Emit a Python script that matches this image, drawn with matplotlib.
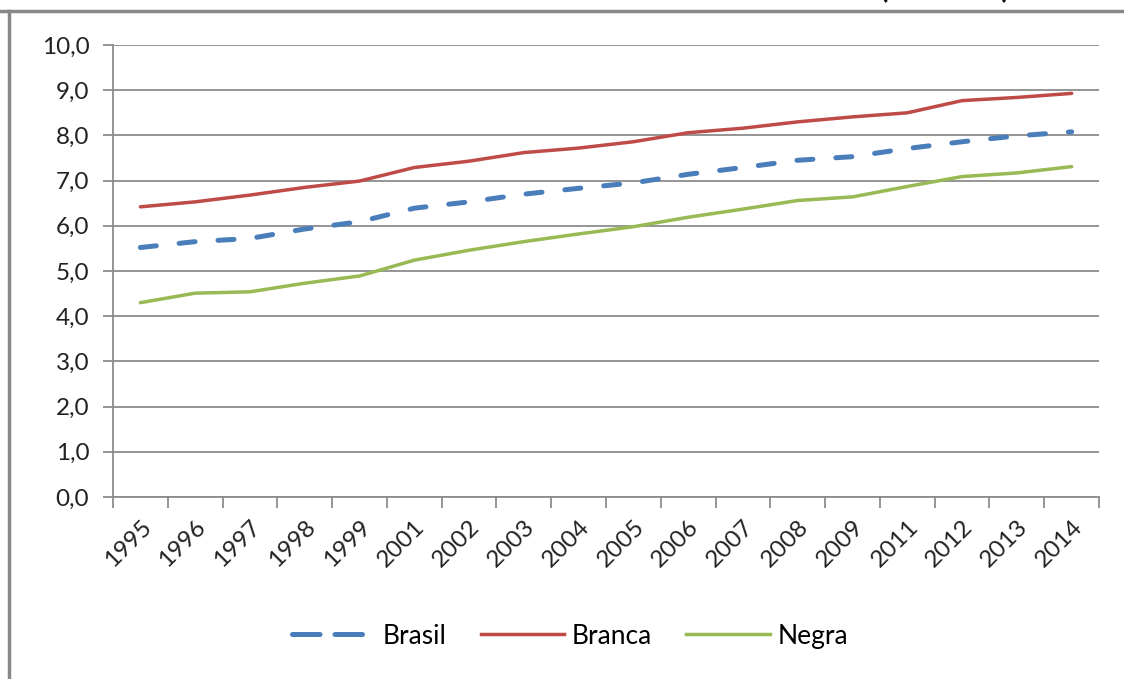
import numpy as np
import matplotlib
matplotlib.use('Agg')
import matplotlib.pyplot as plt
from matplotlib.lines import Line2D

plt.rcParams['font.family'] = ['Lato', 'DejaVu Sans']

# Data
years = ['1995', '1996', '1997', '1998', '1999', '2001', '2002', '2003', '2004',
         '2005', '2006', '2007', '2008', '2009', '2011', '2012', '2013', '2014']
brasil = [5.52, 5.65, 5.72, 5.93, 6.09, 6.39, 6.53, 6.70, 6.83,
          6.95, 7.14, 7.29, 7.45, 7.53, 7.71, 7.86, 7.99, 8.08]
branca = [6.42, 6.53, 6.68, 6.85, 6.99, 7.29, 7.43, 7.62, 7.72,
          7.86, 8.06, 8.16, 8.30, 8.41, 8.50, 8.77, 8.84, 8.93]
negra = [4.30, 4.51, 4.54, 4.73, 4.89, 5.24, 5.46, 5.65, 5.82,
         5.98, 6.19, 6.37, 6.56, 6.64, 6.87, 7.09, 7.17, 7.31]

c_brasil = '#4A7EBB'
c_branca = '#BE4B48'
c_negra = '#98B954'
grid_c = '#8C8C8C'

fig = plt.figure(figsize=(11.24, 6.79), dpi=100)
ax = fig.add_axes([0.1005, 0.268, 0.8773, 0.6657])

x = np.arange(len(years))

# Plot the three series
ax.plot(x, brasil, color=c_brasil, lw=3.6, dashes=(3.2, 4.6),
        solid_capstyle='round', dash_capstyle='round', label='Brasil', zorder=3)
ax.plot(x, branca, color=c_branca, lw=2.5, solid_capstyle='round', label='Branca', zorder=3)
ax.plot(x, negra, color=c_negra, lw=2.5, solid_capstyle='round', label='Negra', zorder=3)

ax.set_xlim(-0.5, len(years) - 0.5)
ax.set_ylim(0, 10)

# Y axis
yt = np.arange(0, 10.5, 1.0)
ax.set_yticks(yt)
ax.set_yticklabels([f'{v:.1f}'.replace('.', ',') for v in yt], fontsize=17.5, color='#222222')
ax.yaxis.grid(True, color=grid_c, lw=1.3)
ax.set_axisbelow(True)
ax.tick_params(axis='y', length=7, width=1.3, color=grid_c, pad=10)

# X axis: labels at centres, tick marks at category boundaries
ax.set_xticks(x)
ax.set_xticklabels(years, rotation=45, ha='right', va='top', rotation_mode='anchor',
                   fontsize=17.5, color='#222222')
ax.tick_params(axis='x', which='major', length=0, pad=14)
ax.set_xticks(np.arange(-0.5, len(years)), minor=True)
ax.tick_params(axis='x', which='minor', length=8, width=1.3, color=grid_c, direction='out')

for s in ['top', 'right']:
    ax.spines[s].set_visible(False)
for s in ['left', 'bottom']:
    ax.spines[s].set_color(grid_c)
    ax.spines[s].set_linewidth(1.3)

# Legend
handles = [Line2D([], [], color=c_brasil, lw=3.6, dashes=(5.5, 3.0), dash_capstyle='round'),
           Line2D([], [], color=c_branca, lw=2.5),
           Line2D([], [], color=c_negra, lw=2.5)]
fig.legend(handles, ['Brasil', 'Branca', 'Negra'], loc='center', bbox_to_anchor=(0.507, 0.063),
           ncol=3, frameon=False, fontsize=19, handlelength=3.15, columnspacing=1.3,
           handletextpad=0.3)

# Outer chart frame (top and left edges visible) and cut-off title
fig.add_artist(Line2D([0, 1], [1 - 11 / 679] * 2, color='#888888', lw=2.5,
                      transform=fig.transFigure))
fig.add_artist(Line2D([9 / 1124] * 2, [0, 1 - 11 / 679], color='#888888', lw=2.5,
                      transform=fig.transFigure))
fig.text(880 / 1124, 1.0 + 3 / 679, '(em anos)', ha='left', va='baseline', fontsize=22,
         fontweight='bold', color='#111111')

fig.savefig('out.png', dpi=100)
